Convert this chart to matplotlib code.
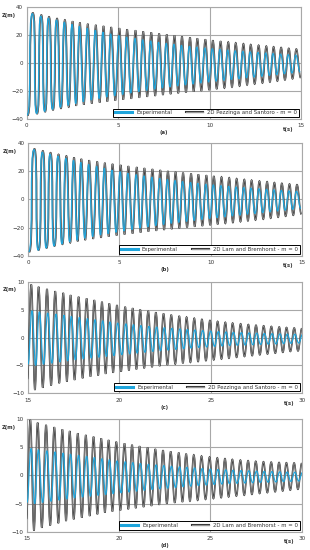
import matplotlib
matplotlib.use("Agg")
import matplotlib.pyplot as plt
import matplotlib.patheffects as pe
from matplotlib.path import Path
from matplotlib.patches import PathPatch
from matplotlib.lines import Line2D

# ---- panels (a) and (b): 0 - 15 s ----
# times of the crests (s)
PEAK_T_AB = [0.31, 0.77, 1.19, 1.63, 2.06, 2.48, 2.88, 3.31, 3.75, 4.17,
             4.59, 5.04, 5.46, 5.92, 6.34, 6.78, 7.21, 7.63, 8.05, 8.46,
             8.90, 9.30, 9.74, 10.15, 10.57, 10.99, 11.40, 11.82, 12.22, 12.65,
             13.07, 13.47, 13.88, 14.30, 14.71]
T_START_AB = 0.02
T_END_AB = 14.95

EXP_PEAK_AB = [35.4, 33.6, 32.2, 30.8, 29.3, 27.8, 26.4, 25.0, 23.6, 22.3,
               21.0, 19.8, 18.7, 17.7, 16.8, 15.9, 15.0, 14.2, 13.5, 12.8,
               12.1, 11.5, 10.9, 10.4, 9.9, 9.4, 8.9, 8.5, 8.1, 7.7,
               7.3, 6.9, 6.5, 6.1, 5.8]
EXP_TROUGH_AB = [-37.2, -36.0, -34.5, -33.0, -31.6, -30.2, -28.9, -27.6, -26.4, -25.3,
                 -24.3, -23.4, -22.4, -21.4, -20.4, -19.5, -18.6, -17.8, -17.0, -16.3,
                 -15.6, -14.9, -14.2, -13.5, -12.9, -12.3, -11.7, -11.1, -10.5, -10.0,
                 -9.4, -8.8, -8.2, -7.6, -7.0, -6.4]

MOD_PEAK_A = [36.0, 34.5, 33.2, 32.0, 31.0, 30.0, 29.1, 28.2, 27.4, 26.6,
              25.8, 25.0, 24.2, 23.5, 22.7, 22.0, 21.2, 20.5, 19.8, 19.1,
              18.4, 17.7, 17.0, 16.3, 15.7, 15.1, 14.5, 13.9, 13.3, 12.8,
              12.2, 11.7, 11.2, 10.6, 10.1]
MOD_TROUGH_A = [-37.4, -36.2, -34.8, -33.5, -32.4, -31.4, -30.5, -29.7, -28.9, -28.2,
                -27.5, -26.8, -26.1, -25.4, -24.7, -24.0, -23.4, -22.7, -22.1, -21.5,
                -20.9, -20.3, -19.8, -19.2, -18.5, -17.8, -17.1, -16.4, -15.6, -14.9,
                -14.2, -13.5, -12.8, -12.0, -11.2, -10.5]

MOD_PEAK_B = [36.0, 34.6, 33.3, 32.1, 31.0, 29.9, 28.9, 27.9, 27.0, 26.1,
              25.3, 24.5, 23.7, 23.0, 22.3, 21.6, 20.9, 20.2, 19.6, 19.0,
              18.4, 17.8, 17.2, 16.6, 16.0, 15.4, 14.8, 14.2, 13.7, 13.1,
              12.6, 12.0, 11.5, 11.0, 10.5]
MOD_TROUGH_B = [-37.4, -36.0, -34.5, -33.1, -31.9, -30.8, -29.8, -28.9, -28.0, -27.2,
                -26.4, -25.6, -24.9, -24.2, -23.5, -22.8, -22.2, -21.6, -21.0, -20.4,
                -19.8, -19.3, -18.8, -18.2, -17.6, -17.0, -16.4, -15.8, -15.2, -14.6,
                -14.0, -13.3, -12.6, -11.9, -11.2, -10.5]
MOD_LAG_AB = 0.03

# ---- panels (c) and (d): 15 - 30 s ----
PEAK_T_CD = [15.22, 15.62, 16.08, 16.53, 16.97, 17.37, 17.81, 18.25, 18.67, 19.09,
             19.49, 19.91, 20.36, 20.77, 21.18, 21.62, 22.04, 22.46, 22.88, 23.32,
             23.72, 24.14, 24.56, 25.00, 25.42, 25.84, 26.24, 26.68, 27.10, 27.52,
             27.94, 28.36, 28.79, 29.19, 29.61, 30.03]
T_START_CD = 15.0

EXP_PEAK_CD = [4.8, 4.6, 4.4, 4.2, 4.0, 3.8, 3.6, 3.4, 3.2, 3.0,
               2.8, 2.6, 2.45, 2.3, 2.15, 2.0, 1.88, 1.76, 1.65, 1.55,
               1.45, 1.35, 1.25, 1.15, 1.07, 1.0, 0.94, 0.88, 0.83, 0.78,
               0.73, 0.69, 0.65, 0.61, 0.58, 0.55]
EXP_TROUGH_CD = [-4.8, -5.0, -4.8, -4.6, -4.4, -4.2, -4.0, -3.85, -3.7, -3.55,
                 -3.4, -3.25, -3.1, -2.95, -2.8, -2.65, -2.5, -2.38, -2.26, -2.14,
                 -2.02, -1.9, -1.8, -1.7, -1.6, -1.52, -1.45, -1.4, -1.35, -1.3,
                 -1.25, -1.2, -1.15, -1.1, -1.05, -1.0]

MOD_PEAK_C = [9.5, 9.1, 8.7, 8.3, 8.0, 7.6, 7.3, 7.0, 6.7, 6.4,
              6.1, 5.8, 5.5, 5.25, 5.0, 4.75, 4.5, 4.28, 4.06, 3.85,
              3.65, 3.45, 3.25, 3.05, 2.88, 2.72, 2.58, 2.45, 2.32, 2.2,
              2.09, 1.98, 1.88, 1.79, 1.7, 1.62]
MOD_TROUGH_C = [-7.5, -9.4, -9.0, -8.6, -8.2, -7.9, -7.6, -7.3, -7.0, -6.8,
                -6.5, -6.3, -6.1, -5.9, -5.7, -5.5, -5.3, -5.1, -4.9, -4.75,
                -4.6, -4.45, -4.3, -4.15, -4.0, -3.85, -3.7, -3.55, -3.4, -3.25,
                -3.1, -2.95, -2.8, -2.65, -2.5, -2.4]

MOD_PEAK_D = [9.9, 9.4, 9.0, 8.6, 8.2, 7.9, 7.5, 7.2, 6.9, 6.6,
              6.3, 6.0, 5.7, 5.45, 5.2, 4.95, 4.7, 4.48, 4.26, 4.05,
              3.85, 3.65, 3.45, 3.28, 3.12, 2.98, 2.85, 2.73, 2.62, 2.52,
              2.44, 2.37, 2.31, 2.26, 2.22, 2.18]
MOD_TROUGH_D = [-7.8, -9.8, -9.3, -8.9, -8.5, -8.1, -7.8, -7.5, -7.2, -6.9,
                -6.6, -6.4, -6.2, -6.0, -5.8, -5.6, -5.4, -5.2, -5.0, -4.85,
                -4.7, -4.55, -4.4, -4.25, -4.1, -3.95, -3.8, -3.65, -3.5, -3.35,
                -3.2, -3.05, -2.9, -2.75, -2.6, -2.45]
MOD_LAG_CD = -0.04

# how flat the first swings of (a)/(b) are (clipped, square-ish)
SQUARE_AB = [0.9, 0.9, 0.85, 0.85, 0.8, 0.8, 0.75, 0.7, 0.65, 0.6, 0.55, 0.5]

EXP_COLOR = "#1fa5dc"
MOD_COLOR = "#959595"
GRID_COLOR = "#a8a8a8"
TEXT_COLOR = "#333333"

MODEL_AB = ["2D Pezzinga and Santoro - m = 0", "2D Lam and Bremhorst - m = 0"]


def extrema(peak_t, peak_z, trough_z, t_start, t_end=None, lag=0.0):
    trough_t = [t_start]
    for i in range(len(peak_t) - 1):
        trough_t.append((peak_t[i] + peak_t[i + 1]) / 2)
    if t_end is not None:
        trough_t.append(t_end)
    pts = []
    for i in range(len(peak_t)):
        pts.append((trough_t[i] + lag, trough_z[i]))
        pts.append((peak_t[i] + lag, peak_z[i]))
    if len(trough_z) > len(peak_t):
        pts.append((trough_t[-1] + lag, trough_z[-1]))
    return pts


def wave_path(pts, square=()):
    verts = [pts[0]]
    codes = [Path.MOVETO]
    for i in range(len(pts) - 1):
        t0, z0 = pts[i]
        t1, z1 = pts[i + 1]
        k = square[i] if i < len(square) else 0.42
        dt = t1 - t0
        verts += [(t0 + k * dt, z0), (t1 - k * dt, z1), (t1, z1)]
        codes += [Path.CURVE4] * 3
    return Path(verts, codes)


def model_effects(w=1.15):
    return [pe.Stroke(linewidth=w, foreground="#303030"),
            pe.Normal()]


def draw_panel(fig, rect, exp_pts, mod_pts, square, xlim, yticks, xticks,
               model_name, letter):
    ax = fig.add_axes(rect)
    ax.set_xlim(*xlim)
    ax.set_ylim(yticks[0], yticks[-1])
    ax.set_xticks(xticks)
    ax.set_yticks(yticks)
    ax.grid(True, color=GRID_COLOR, linewidth=0.8)
    ax.set_axisbelow(True)
    for s in ax.spines.values():
        s.set_color(GRID_COLOR)
        s.set_linewidth(0.8)
    ax.tick_params(length=0, labelsize=4.1, colors=TEXT_COLOR)
    ax.tick_params(axis="x", pad=3.2)
    ax.tick_params(axis="y", pad=2.8)

    mod = PathPatch(wave_path(mod_pts, square), facecolor="none",
                    edgecolor=MOD_COLOR, linewidth=0.5, zorder=3)
    mod.set_path_effects(model_effects())
    ax.add_patch(mod)
    ax.add_patch(PathPatch(wave_path(exp_pts, square), facecolor="none",
                           edgecolor=EXP_COLOR, linewidth=0.85, zorder=4))

    h_exp = Line2D([], [], color=EXP_COLOR, linewidth=2.2)
    h_mod = Line2D([], [], color=MOD_COLOR, linewidth=0.9,
                   path_effects=model_effects(1.5))
    leg = ax.legend([h_exp, h_mod], ["Experimental", model_name], ncol=2,
                    loc="lower right", fontsize=3.9, frameon=True,
                    fancybox=False, edgecolor="black", framealpha=1,
                    borderaxespad=0.4, borderpad=0.3, handlelength=3.2,
                    handletextpad=0.7, columnspacing=2.6)
    leg.get_frame().set_linewidth(0.7)
    for t in leg.get_texts():
        t.set_color(TEXT_COLOR)
    leg.set_zorder(6)

    ax.text(-0.04, 0.93, "Z(m)", transform=ax.transAxes, ha="right",
            va="center", fontsize=3.8, fontweight="bold", color=TEXT_COLOR)
    ax.text(0.972, -0.09, "t(s)", transform=ax.transAxes, ha="right",
            va="center", fontsize=3.8, fontweight="bold", color=TEXT_COLOR)
    ax.text(0.5, -0.125, letter, transform=ax.transAxes, ha="center",
            va="center", fontsize=3.8, fontweight="bold", color=TEXT_COLOR)
    return ax


fig = plt.figure(figsize=(3.1, 5.5), dpi=100)

exp_ab = extrema(PEAK_T_AB, EXP_PEAK_AB, EXP_TROUGH_AB, T_START_AB, T_END_AB)
mod_a = extrema(PEAK_T_AB, MOD_PEAK_A, MOD_TROUGH_A, T_START_AB, T_END_AB, MOD_LAG_AB)
mod_b = extrema(PEAK_T_AB, MOD_PEAK_B, MOD_TROUGH_B, T_START_AB, T_END_AB, MOD_LAG_AB)
exp_cd = extrema(PEAK_T_CD, EXP_PEAK_CD, EXP_TROUGH_CD, T_START_CD)
mod_c = extrema(PEAK_T_CD, MOD_PEAK_C, MOD_TROUGH_C, T_START_CD, lag=MOD_LAG_CD)
mod_d = extrema(PEAK_T_CD, MOD_PEAK_D, MOD_TROUGH_D, T_START_CD, lag=MOD_LAG_CD)

draw_panel(fig, [0.0861, 0.7836, 0.885, 0.2031], exp_ab, mod_a, SQUARE_AB,
           (0, 15), [-40, -20, 0, 20, 40], [0, 5, 10, 15], MODEL_AB[0], "(a)")
draw_panel(fig, [0.0913, 0.5351, 0.882, 0.2044], exp_ab, mod_b, SQUARE_AB,
           (0, 15), [-40, -20, 0, 20, 40], [0, 5, 10, 15], MODEL_AB[1], "(b)")
draw_panel(fig, [0.0903, 0.2849, 0.884, 0.2029], exp_cd, mod_c, (),
           (15, 30), [-10, -5, 0, 5, 10], [15, 20, 25, 30], MODEL_AB[0], "(c)")
draw_panel(fig, [0.0871, 0.0333, 0.887, 0.2044], exp_cd, mod_d, (),
           (15, 30), [-10, -5, 0, 5, 10], [15, 20, 25, 30], MODEL_AB[1], "(d)")

fig.savefig("out.png", dpi=100)
